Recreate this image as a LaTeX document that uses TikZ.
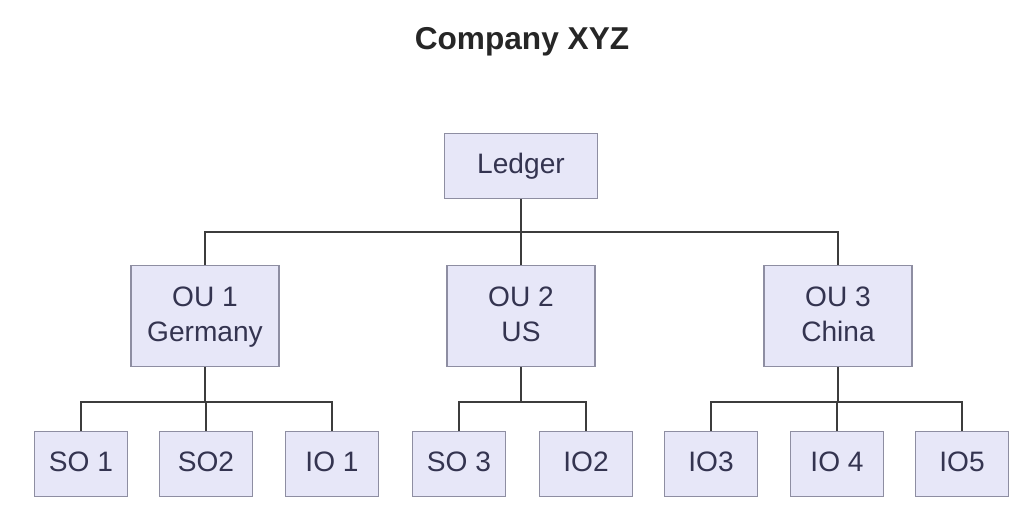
\documentclass[tikz,border=0pt]{standalone}
\usepackage{fontspec}
\setmainfont{Liberation Sans}
\usetikzlibrary{calc}
\definecolor{boxfill}{HTML}{E7E7F8}
\definecolor{boxline}{HTML}{8E8EA2}
\definecolor{boxtext}{HTML}{343450}
\definecolor{wire}{HTML}{3C3C3C}
\begin{document}
\begin{tikzpicture}[x=0.02cm,y=-0.02cm,
  unit/.style={draw=boxline, line width=0.8pt, fill=boxfill, text=boxtext,
    align=center, inner sep=0pt, text depth=0.25em, font=\fontsize{16}{20}\selectfont},
  top/.style={unit, minimum width=3.06cm, minimum height=1.3cm},
  ou/.style={unit, minimum width=2.96cm, minimum height=2.02cm},
  leaf/.style={unit, minimum width=1.86cm, minimum height=1.3cm},
  wire/.style={draw=wire, line width=1.1pt}]
\useasboundingbox (0,0) rectangle (1025,512);

\node[font=\bfseries\fontsize{18}{22}\selectfont, text=black!85] (title) at (522,42) {Company XYZ};

\node[top] (ledger) at (521,166) {Ledger};

\node[ou] (ou1) at (205,316) {OU 1\\Germany};
\node[ou] (ou2) at (521,316) {OU 2\\US};
\node[ou] (ou3) at (838,316) {OU 3\\China};

\node[leaf] (so1) at (81,464) {SO 1};
\node[leaf] (so2) at (206,464) {SO2};
\node[leaf] (io1) at (332,464) {IO 1};
\node[leaf] (so3) at (459,464) {SO 3};
\node[leaf] (io2) at (586,464) {IO2};
\node[leaf] (io3) at (711,464) {IO3};
\node[leaf] (io4) at (837,464) {IO 4};
\node[leaf] (io5) at (962,464) {IO5};

\coordinate (bus) at (521,232);
\coordinate (bus1) at (205,402);
\coordinate (bus2) at (521,402);
\coordinate (bus3) at (838,402);

\draw[wire] (ledger.south) -- (bus);
\draw[wire] (ou1.north) |- (bus) -| (ou3.north);
\draw[wire] (bus) -- (ou2.north);

\draw[wire] (ou1.south) -- (bus1);
\draw[wire] (so1.north) |- (bus1) -| (io1.north);
\draw[wire] (so2.north) |- (bus1);

\draw[wire] (ou2.south) -- (bus2);
\draw[wire] (so3.north) |- (bus2) -| (io2.north);

\draw[wire] (ou3.south) -- (bus3);
\draw[wire] (io3.north) |- (bus3) -| (io5.north);
\draw[wire] (io4.north) |- (bus3);

\end{tikzpicture}
\end{document}
